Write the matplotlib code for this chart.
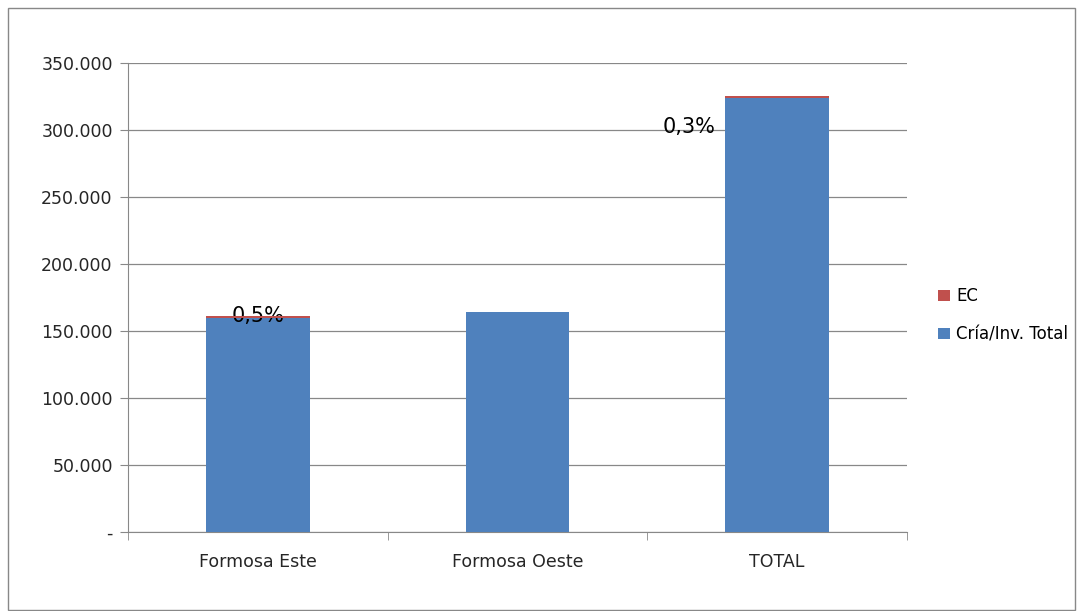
import numpy as np
import matplotlib
matplotlib.use("Agg")
import matplotlib.pyplot as plt
from matplotlib.patches import Rectangle

plt.rcParams['font.family'] = ['DejaVu Sans']

categories = ['Formosa Este', 'Formosa Oeste', 'TOTAL']
cria_total = [160000, 164000, 324000]
ec = [850, 250, 1100]
pct_labels = ['0,5%', '', '0,3%']

yticks = [0, 50000, 100000, 150000, 200000, 250000, 300000, 350000]
ytick_labels = ['-', '50.000', '100.000', '150.000', '200.000', '250.000', '300.000', '350.000']

blue = '#4F81BD'
red = '#C0504D'

fig = plt.figure(figsize=(10.77, 6.11), dpi=100)
ax = fig.add_axes([128/1077, 1 - 532/611, (907-128)/1077, (532-63)/611])

x = np.arange(len(categories))
ax.bar(x, cria_total, width=0.4, color=blue, label='Cría/Inv. Total', zorder=3, antialiased=False)
ax.bar(x, ec, width=0.4, bottom=cria_total, color=red, label='EC', zorder=4,
       antialiased=False, linewidth=0)

ax.set_xlim(-0.5, 2.5)
ax.set_ylim(0, 350000)
ax.set_yticks(yticks)
ax.set_yticklabels(ytick_labels, fontsize=12.5, color='#262626')
ax.yaxis.grid(True, color='#888888', linewidth=0.9, zorder=0)

ax.set_xticks(x)
ax.set_xticklabels(categories, fontsize=12.5, color='#262626')
ax.set_xticks([-0.5, 0.5, 1.5, 2.5], minor=True)
ax.tick_params(axis='x', which='major', length=0, pad=15)
ax.tick_params(axis='x', which='minor', length=6, color='#888888')
ax.tick_params(axis='y', length=6, color='#888888', pad=5)

for s in ['top', 'right']:
    ax.spines[s].set_visible(False)
for s in ['left', 'bottom']:
    ax.spines[s].set_color('#888888')

# percentage labels
ax.text(0, cria_total[0] + ec[0] + 500, pct_labels[0], ha='center', va='center', fontsize=15)
ax.text(1.66, 302000, pct_labels[2], ha='center', va='center', fontsize=15)

handles, labels = ax.get_legend_handles_labels()
fig.legend(handles[::-1], labels[::-1], loc='center left', bbox_to_anchor=(0.857, 0.484),
           frameon=False, fontsize=12, handlelength=0.7, handleheight=0.7,
           handletextpad=0.4, labelspacing=1.2)

fig.patches.append(Rectangle((8/1077, 1/611), 1067/1077, 602/611, transform=fig.transFigure,
                             fill=False, edgecolor='#888888', linewidth=1))

fig.savefig('out.png', dpi=100)
